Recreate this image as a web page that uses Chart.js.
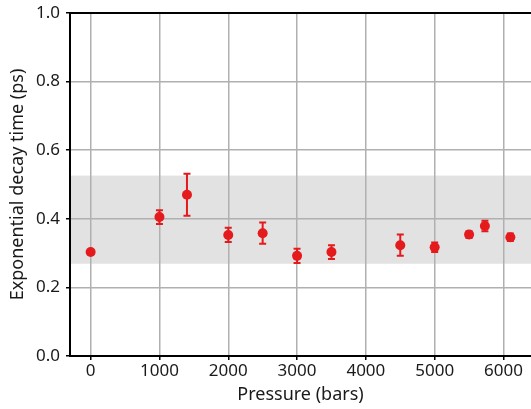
<!DOCTYPE html>
<html>
<head>
<meta charset="utf-8">
<script src="https://cdn.jsdelivr.net/npm/chart.js@4"></script>
<style>
  html, body { margin: 0; padding: 0; background: #fff; }
</style>
</head>
<body>
<canvas id="chart" width="531" height="409"></canvas>
<script>
// pressure (bars) and decay time (ps) with symmetric errors
const pressure = [0, 1000, 1400, 2000, 2500, 3000, 3500, 4500, 5000, 5500, 5730, 6100];
const decayTime = [0.303, 0.405, 0.470, 0.353, 0.358, 0.292, 0.303, 0.323, 0.317, 0.354, 0.379, 0.346];
const decayErr = [0.004, 0.020, 0.061, 0.021, 0.031, 0.021, 0.020, 0.031, 0.014, 0.010, 0.015, 0.011];
const bandRange = [0.269, 0.526];
const xTicks = [0, 1000, 2000, 3000, 4000, 5000, 6000];
const yTicks = [0.0, 0.2, 0.4, 0.6, 0.8, 1.0];

const red = '#e41a1c';
const fontFamily = '"Noto Sans", "DejaVu Sans", sans-serif';

const bandAndErrors = {
    id: 'bandAndErrors',
    beforeDraw(chart) {
        const { ctx, chartArea, scales } = chart;
        const yTop = scales.y.getPixelForValue(bandRange[1]);
        const yBot = scales.y.getPixelForValue(bandRange[0]);
        ctx.save();
        ctx.fillStyle = '#e2e2e2';
        ctx.fillRect(chartArea.left, yTop, chartArea.right - chartArea.left, yBot - yTop);
        ctx.restore();
    },
    beforeDatasetsDraw(chart) {
        const { ctx, scales, chartArea } = chart;
        ctx.save();
        // top frame line
        ctx.strokeStyle = '#000';
        ctx.lineWidth = 2;
        ctx.beginPath();
        ctx.moveTo(chartArea.left, chartArea.top);
        ctx.lineTo(chartArea.right, chartArea.top);
        ctx.stroke();

        ctx.strokeStyle = red;
        ctx.lineWidth = 2;
        pressure.forEach((p, i) => {
            const x = scales.x.getPixelForValue(p);
            const y1 = scales.y.getPixelForValue(decayTime[i] + decayErr[i]);
            const y2 = scales.y.getPixelForValue(decayTime[i] - decayErr[i]);
            ctx.beginPath();
            ctx.moveTo(x, y1); ctx.lineTo(x, y2);
            ctx.moveTo(x - 3.5, y1); ctx.lineTo(x + 3.5, y1);
            ctx.moveTo(x - 3.5, y2); ctx.lineTo(x + 3.5, y2);
            ctx.stroke();
        });
        ctx.restore();
    }
};

new Chart(document.getElementById('chart'), {
    type: 'scatter',
    data: {
        datasets: [{
            data: pressure.map((p, i) => ({ x: p, y: decayTime[i] })),
            backgroundColor: red,
            borderColor: red,
            pointRadius: 5,
            pointBorderWidth: 0
        }]
    },
    options: {
        responsive: false,
        animation: false,
        layout: { autoPadding: false, padding: { top: 13, right: 0, left: 0, bottom: 0 } },
        plugins: { legend: { display: false }, tooltip: { enabled: false } },
        scales: {
            x: {
                type: 'linear',
                min: -300,
                max: 6400,
                afterBuildTicks: s => { s.ticks = xTicks.map(v => ({ value: v })); },
                afterFit: s => { s.height = 53; s.paddingRight = 0; s.paddingLeft = 0; },
                grid: { color: '#b0b0b0', lineWidth: 1.5, tickLength: 4, tickColor: '#000' },
                border: { color: '#000', width: 2 },
                ticks: { color: '#1a1a1a', font: { family: fontFamily, size: 17 }, padding: 1, maxRotation: 0, callback: v => String(v) },
                title: { display: true, text: 'Pressure (bars)', color: '#1a1a1a', font: { family: fontFamily, size: 18 }, padding: { top: 0, bottom: 3 } }
            },
            y: {
                min: 0,
                max: 1,
                afterBuildTicks: s => { s.ticks = yTicks.map(v => ({ value: v })); },
                afterFit: s => { s.width = 70; s.paddingTop = 0; s.paddingBottom = 0; },
                grid: { color: '#b0b0b0', lineWidth: 1.5, tickLength: 4, tickColor: '#000' },
                border: { color: '#000', width: 2 },
                ticks: { color: '#1a1a1a', font: { family: fontFamily, size: 17 }, padding: 6, callback: v => v.toFixed(1) },
                title: { display: true, text: 'Exponential decay time (ps)', color: '#1a1a1a', font: { family: fontFamily, size: 18 }, padding: { top: 7, bottom: 0 } }
            }
        }
    },
    plugins: [bandAndErrors]
});
</script>
</body>
</html>
